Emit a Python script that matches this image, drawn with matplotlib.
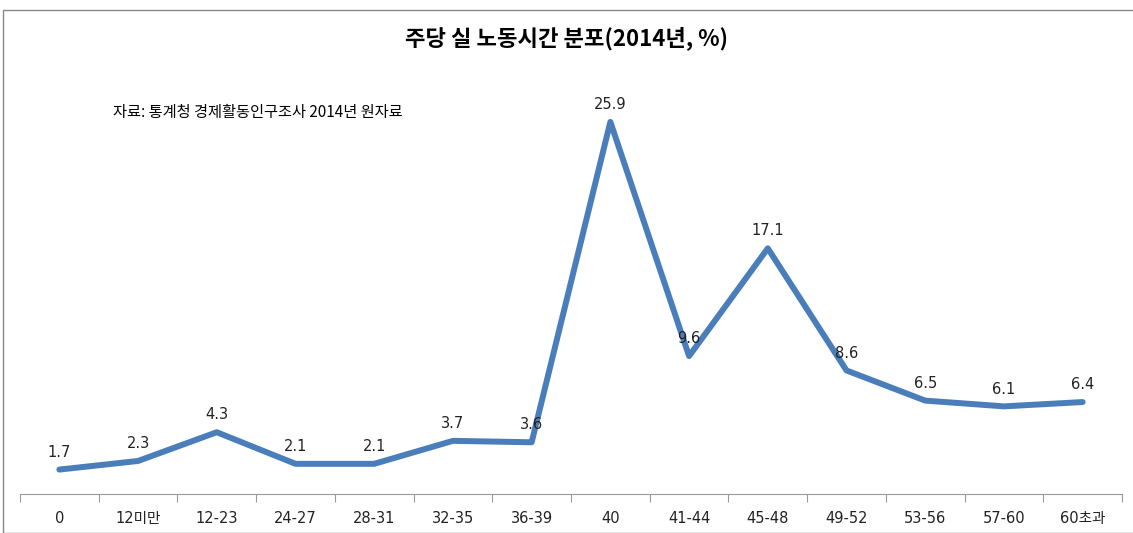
import matplotlib.pyplot as plt
from matplotlib.patches import Rectangle

plt.rcParams['font.family'] = ['DejaVu Sans', 'Noto Sans CJK KR']

# 주당 실 노동시간 구간별 비율 (%)
hours = ['0', '12미만', '12-23', '24-27', '28-31', '32-35', '36-39',
         '40', '41-44', '45-48', '49-52', '53-56', '57-60', '60초과']
share = [1.7, 2.3, 4.3, 2.1, 2.1, 3.7, 3.6, 25.9, 9.6, 17.1, 8.6, 6.5, 6.1, 6.4]

fig = plt.figure(figsize=(11.33, 5.33), dpi=100)
ax = fig.add_axes([20 / 1133, 39 / 533, 1102 / 1133, 431 / 533])

x = list(range(len(hours)))
ax.plot(x, share, color='#4A7EBB', linewidth=4.3, solid_joinstyle='round',
        solid_capstyle='round')

for xi, v in zip(x, share):
    ax.annotate(f'{v:.1f}', (xi, v), xytext=(0, 12.5), textcoords='offset points',
                ha='center', va='center', fontsize=10.5, color='#222222')

ax.set_xlim(-0.5, len(hours) - 0.5)
ax.set_ylim(0, 30)

# 구간 경계에 눈금, 구간 가운데에 라벨
ax.set_xticks([i - 0.5 for i in range(len(hours) + 1)])
ax.set_xticklabels([])
ax.tick_params(axis='x', which='major', direction='out', length=6, color='#999999')
ax.set_xticks(x, minor=True)
ax.set_xticklabels(hours, minor=True, fontsize=10.5, color='#222222')
ax.tick_params(axis='x', which='minor', length=0, pad=12)
ax.set_yticks([])

for side in ['left', 'right', 'top']:
    ax.spines[side].set_visible(False)
ax.spines['bottom'].set_color('#999999')

fig.text(0.5, 1 - 38 / 533, '주당 실 노동시간 분포(2014년, %)', ha='center', va='center',
         fontsize=16, fontweight='bold', family=['Noto Sans CJK KR'])
fig.text(113 / 1133, 1 - 112 / 533, '자료: 통계청 경제활동인구조사 2014년 원자료',
         ha='left', va='center', fontsize=11, family=['Noto Sans CJK KR'])

fig.patches.append(Rectangle((3 / 1133, 0), 1.0, 1 - 10 / 533, transform=fig.transFigure,
                             fill=False, edgecolor='#888888', linewidth=1))

fig.savefig('out.png', dpi=100)
